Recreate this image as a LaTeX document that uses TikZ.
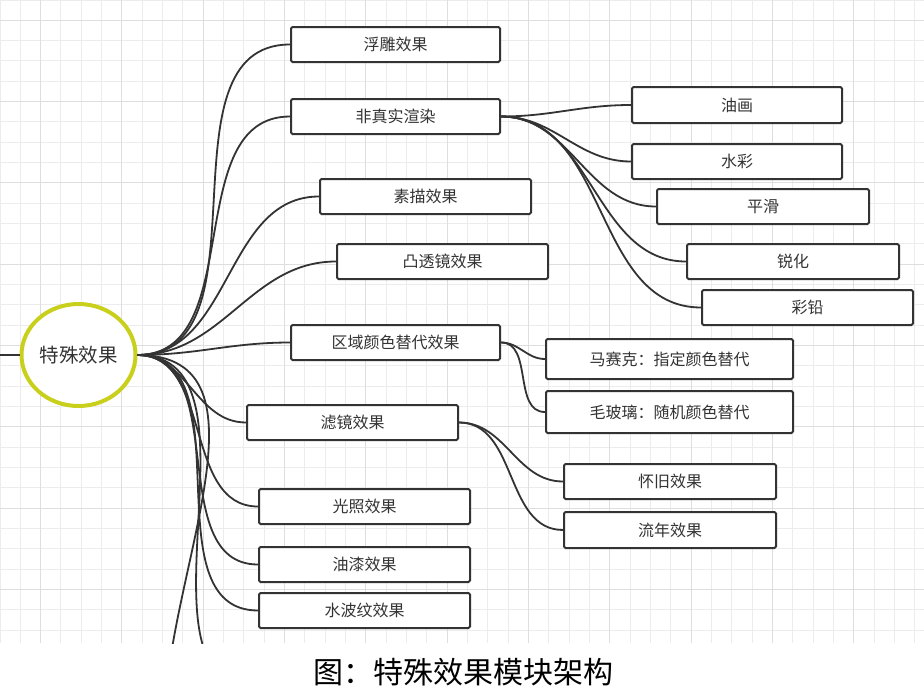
\documentclass[tikz,border=0pt]{standalone}
\usepackage{fontspec}
\setmainfont{Noto Sans CJK SC}
\usepackage{tikz}
\usetikzlibrary{shapes.geometric}

\definecolor{gridminor}{RGB}{236,236,236}
\definecolor{gridmajor}{RGB}{222,222,222}
\definecolor{rootring}{RGB}{200,208,28}
\definecolor{inkgray}{RGB}{51,51,51}

\tikzset{
  leaf/.style={draw=inkgray, line width=2pt, rounded corners=1.5pt, fill=white,
    minimum height=35pt, minimum width=210pt, inner sep=0pt,
    text=inkgray, font=\fontsize{16pt}{16pt}\selectfont},
  branch/.style={draw=inkgray, line width=1.8pt},
}

\begin{document}
\begin{tikzpicture}[x=1pt, y=-1pt]
    \useasboundingbox[fill=white] (0,0) rectangle (924,699);
    \begin{scope}
      \clip (0,0) rectangle (924,643);
      \foreach \g in {0,...,45}
        \draw[gridminor, line width=1pt] (20.33*\g,0) -- (20.33*\g,643);
      \foreach \g in {0,...,31}
        \draw[gridminor, line width=1pt] (0,20.33*\g) -- (924,20.33*\g);
      \foreach \g in {0,...,11}
        \draw[gridmajor, line width=1pt] (40.66+81.33*\g,0) -- (40.66+81.33*\g,643);
      \foreach \g in {0,...,7}
        \draw[gridmajor, line width=1pt] (0,20.33+81.33*\g) -- (924,20.33+81.33*\g);

      \node[draw=rootring, line width=4pt, fill=white, ellipse, minimum width=114pt,
        minimum height=102pt, inner sep=0pt, text=inkgray,
        font=\fontsize{19.5pt}{19.5pt}\selectfont] (root) at (78.5,355) {特殊效果};
      \coordinate (feed) at (0,355);
      \draw[branch] (feed) -- (root.west);

      \node[leaf, minimum width=209pt] (fudiao) at (395.5,44.5) {浮雕效果};
      \node[leaf, minimum width=209pt] (feizhenshi) at (395.5,116.5) {非真实渲染};
      \node[leaf, minimum width=211pt] (sumiao) at (425.5,196.5) {素描效果};
      \node[leaf, minimum width=211pt] (tutoujing) at (442.5,261.5) {凸透镜效果};
      \node[leaf, minimum width=209pt] (quyu) at (395.5,342.5) {区域颜色替代效果};
      \node[leaf, minimum width=211pt] (lvjing) at (352.5,422.5) {滤镜效果};
      \node[leaf, minimum width=211pt] (guangzhao) at (364.5,506.5) {光照效果};
      \node[leaf, minimum width=211pt] (youqi) at (364.5,564.5) {油漆效果};
      \node[leaf, minimum width=211pt] (shuibowen) at (364.5,610.5) {水波纹效果};
      \coordinate (hiddenA) at (259,690);
      \coordinate (hiddenB) at (165,720);

      \node[leaf, minimum height=36pt] (youhua) at (737,105) {油画};
      \node[leaf] (shuicai) at (737,161.5) {水彩};
      \node[leaf, minimum width=212pt] (pinghua) at (763,206.5) {平滑};
      \node[leaf, minimum width=212pt] (ruihua) at (793,261.5) {锐化};
      \node[leaf, minimum width=211pt] (caiqian) at (807.5,307.5) {彩铅};

      \node[leaf, minimum width=247pt, minimum height=40pt] (masaike) at (669.5,359) {马赛克：指定颜色替代};
      \node[leaf, minimum width=247pt, minimum height=42pt] (maoboli) at (669.5,412) {毛玻璃：随机颜色替代};

      \node[leaf, minimum width=212pt] (huaijiu) at (670,481.5) {怀旧效果};
      \node[leaf, minimum width=212pt, minimum height=36pt] (liunian) at (670,530) {流年效果};

      \foreach \kid in {fudiao,feizhenshi,sumiao,tutoujing,quyu,lvjing,guangzhao,youqi,shuibowen}
        \draw[branch] (root.east) to[out=0, in=180] (\kid.west);
      \draw[branch] (root.east) to[out=0, in=180] (hiddenA);
      \draw[branch] (root.east) to[out=0, in=90] (hiddenB);
      \foreach \kid in {youhua,shuicai,pinghua,ruihua,caiqian}
        \draw[branch] (feizhenshi.east) to[out=0, in=180] (\kid.west);
      \foreach \kid in {masaike,maoboli}
        \draw[branch] (quyu.east) to[out=0, in=180] (\kid.west);
      \foreach \kid in {huaijiu,liunian}
        \draw[branch] (lvjing.east) to[out=0, in=180] (\kid.west);
    \end{scope}

    \node[font=\fontsize{30pt}{30pt}\selectfont] (caption) at (463,672) {图：特殊效果模块架构};
\end{tikzpicture}
\end{document}
